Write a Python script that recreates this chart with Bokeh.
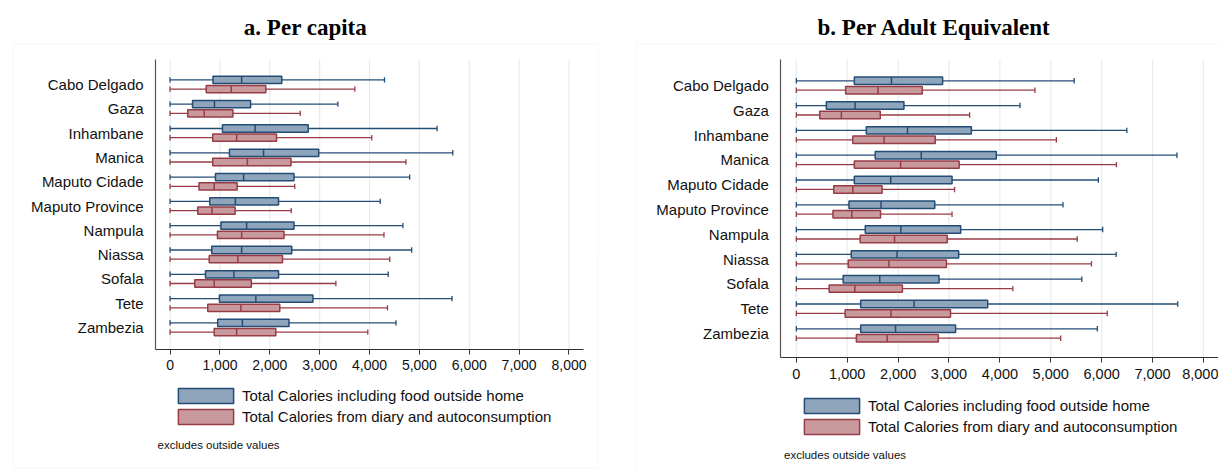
from bokeh.plotting import figure
from bokeh.models import (Range1d, FixedTicker, NumeralTickFormatter, Legend,
                          LegendItem, Label, BoxAnnotation, LinearAxis)
from bokeh.layouts import row
from bokeh.embed import file_html
from bokeh.resources import INLINE

# Provinces, listed top to bottom
regions = ["Cabo Delgado", "Gaza", "Inhambane", "Manica", "Maputo Cidade",
           "Maputo Province", "Nampula", "Niassa", "Sofala", "Tete", "Zambezia"]

x_ticks = [0, 1000, 2000, 3000, 4000, 5000, 6000, 7000, 8000]

# Box-plot statistics (kcal/day). Lower adjacent values are all zero.
# a. Per capita - total calories including food outside home
pc_tot_lo = [0, 0, 0, 0, 0, 0, 0, 0, 0, 0, 0]
pc_tot_q1 = [860, 450, 1050, 1190, 910, 795, 1020, 835, 710, 990, 955]
pc_tot_med = [1435, 890, 1705, 1875, 1475, 1310, 1535, 1435, 1280, 1720, 1450]
pc_tot_q3 = [2240, 1615, 2770, 2980, 2485, 2175, 2485, 2440, 2175, 2865, 2385]
pc_tot_hi = [4300, 3365, 5355, 5670, 4805, 4215, 4670, 4845, 4375, 5655, 4530]

# a. Per capita - total calories from diary and autoconsumption
pc_dia_lo = [0, 0, 0, 0, 0, 0, 0, 0, 0, 0, 0]
pc_dia_q1 = [725, 355, 855, 855, 580, 555, 950, 785, 495, 755, 885]
pc_dia_med = [1225, 685, 1335, 1550, 885, 840, 1435, 1360, 885, 1420, 1335]
pc_dia_q3 = [1920, 1260, 2135, 2425, 1345, 1305, 2285, 2255, 1630, 2200, 2120]
pc_dia_hi = [3705, 2610, 4045, 4730, 2500, 2430, 4290, 4405, 3325, 4360, 3965]

# b. Per adult equivalent - total calories including food outside home
ae_tot_lo = [0, 0, 0, 0, 0, 0, 0, 0, 0, 0, 0]
ae_tot_q1 = [1140, 590, 1375, 1550, 1140, 1035, 1355, 1080, 920, 1265, 1265]
ae_tot_med = [1870, 1155, 2185, 2455, 1855, 1665, 2055, 1980, 1640, 2315, 1950]
ae_tot_q3 = [2875, 2115, 3440, 3930, 3060, 2720, 3230, 3190, 2805, 3760, 3130]
ae_tot_hi = [5460, 4395, 6495, 7480, 5935, 5240, 6020, 6285, 5610, 7495, 5915]

# b. Per adult equivalent - total calories from diary and autoconsumption
ae_dia_lo = [0, 0, 0, 0, 0, 0, 0, 0, 0, 0, 0]
ae_dia_q1 = [970, 460, 1110, 1140, 735, 720, 1255, 1020, 645, 960, 1180]
ae_dia_med = [1605, 885, 1725, 2050, 1110, 1090, 1930, 1820, 1150, 1860, 1785]
ae_dia_q3 = [2475, 1650, 2730, 3200, 1685, 1655, 2965, 2950, 2085, 3030, 2790]
ae_dia_hi = [4690, 3405, 5110, 6290, 3110, 3060, 5520, 5800, 4255, 6110, 5195]

label_total = "Total Calories including food outside home"
label_diary = "Total Calories from diary and autoconsumption"

BLUE_LINE, BLUE_FILL = "#244d76", "#8fa5bc"
RED_LINE, RED_FILL = "#973c45", "#c8999d"
GRID = "#e3edf1"
SANS = "Liberation Sans"
SERIF = "Liberation Serif"

BOX_H = 0.30     # box thickness in category units
OFFSET = 0.19    # vertical shift of each series from the category centre
CAP = 0.11       # half-height of whisker end caps


def add_boxes(p, lo, q1, med, q3, hi, shift, line, fill):
    n = len(regions)
    ys = [n - 1 - i + shift for i in range(n)]
    lw = 1.3
    p.segment(x0=lo, y0=ys, x1=q1, y1=ys, line_color=line, line_width=lw)
    p.segment(x0=q3, y0=ys, x1=hi, y1=ys, line_color=line, line_width=lw)
    p.segment(x0=lo, y0=[y - CAP for y in ys], x1=lo, y1=[y + CAP for y in ys],
              line_color=line, line_width=lw)
    p.segment(x0=hi, y0=[y - CAP for y in ys], x1=hi, y1=[y + CAP for y in ys],
              line_color=line, line_width=lw)
    box = p.hbar(y=ys, left=q1, right=q3, height=BOX_H, fill_color=fill,
                 line_color=line, line_width=1.5)
    p.segment(x0=med, y0=[y - BOX_H / 2 for y in ys], x1=med,
              y1=[y + BOX_H / 2 for y in ys], line_color=line, line_width=1.5)
    return box


def make_panel(title, title_x, width, canvas_x, canvas_y, plot_x, plot_y,
               tot, dia, legend_xy, note_xy, panel_box, tick_size):
    """canvas_x/canvas_y: data ranges spanning the whole canvas;
    plot_x/plot_y: extent of the plotting area (where the axes sit)."""
    p = figure(width=width, height=470, title=None, toolbar_location=None,
               output_backend="svg",
               x_range=Range1d(*canvas_x), y_range=Range1d(*canvas_y),
               x_axis_type=None, y_axis_type=None,
               min_border=0, min_border_left=0, min_border_right=0,
               min_border_top=0, min_border_bottom=0)
    p.outline_line_color = None
    p.background_fill_color = "white"
    p.border_fill_color = "white"
    p.xgrid.visible = False
    p.ygrid.visible = False

    # light panel frame
    fl, fr, ft, fb = panel_box
    p.add_layout(BoxAnnotation(left=fl, right=fr, top=ft, bottom=fb,
                               left_units="canvas", right_units="canvas",
                               top_units="canvas", bottom_units="canvas",
                               fill_alpha=0, line_color="#e2eaee", line_width=1.5))

    # vertical grid lines over the plotting area
    p.segment(x0=x_ticks, y0=plot_y[0], x1=x_ticks, y1=plot_y[1],
              line_color=GRID, line_width=1.2)

    # x axis
    xa = LinearAxis(fixed_location=plot_y[0], bounds=plot_x)
    xa.ticker = FixedTicker(ticks=x_ticks)
    xa.formatter = NumeralTickFormatter(format="0,0")
    xa.axis_line_color = "#333333"
    xa.axis_line_width = 1.2
    xa.major_tick_line_color = "#333333"
    xa.major_tick_out = 5
    xa.major_tick_in = 0
    xa.minor_tick_line_color = None
    xa.major_label_standoff = 6
    xa.major_label_text_font = SANS
    xa.major_label_text_font_size = tick_size
    xa.major_label_text_color = "#111111"
    p.add_layout(xa, "below")

    # y axis with province names
    n = len(regions)
    ya = LinearAxis(fixed_location=plot_x[0], bounds=plot_y)
    ya.ticker = FixedTicker(ticks=list(range(n)))
    ya.major_label_overrides = {n - 1 - i: name for i, name in enumerate(regions)}
    ya.axis_line_color = "#555555"
    ya.axis_line_width = 1.2
    ya.major_tick_line_color = None
    ya.minor_tick_line_color = None
    ya.major_label_standoff = 6
    ya.major_label_text_font = SANS
    ya.major_label_text_font_size = "15px"
    ya.major_label_text_color = "#111111"
    p.add_layout(ya, "left")

    r_tot = add_boxes(p, *tot, OFFSET, BLUE_LINE, BLUE_FILL)
    r_dia = add_boxes(p, *dia, -OFFSET, RED_LINE, RED_FILL)

    legend = Legend(items=[LegendItem(label=label_total, renderers=[r_tot]),
                           LegendItem(label=label_diary, renderers=[r_dia])],
                    location=legend_xy, orientation="vertical",
                    glyph_width=69, glyph_height=19, label_height=19,
                    spacing=2, padding=0, margin=0, label_standoff=2,
                    border_line_color=None, background_fill_alpha=0,
                    label_text_font=SANS, label_text_font_size="15px",
                    label_text_color="#111111")
    p.add_layout(legend)

    p.add_layout(Label(x=title_x, y=27, x_units="canvas", y_units="canvas",
                       text=title, text_align="center", text_baseline="middle",
                       text_font=SERIF, text_font_style="bold",
                       text_font_size="23px", text_color="#000000"))
    p.add_layout(Label(x=note_xy[0], y=note_xy[1], x_units="canvas",
                       y_units="canvas", text="excludes outside values",
                       text_align="left", text_baseline="middle",
                       text_font=SANS, text_font_size="11.5px",
                       text_color="#111111"))
    return p


left = make_panel("a. Per capita", 305, 615,
                  (-3401, 8933), (-5.885, 13.457),
                  (-290, 8290), (-0.905, 11.03),
                  (pc_tot_lo, pc_tot_q1, pc_tot_med, pc_tot_q3, pc_tot_hi),
                  (pc_dia_lo, pc_dia_q1, pc_dia_med, pc_dia_q3, pc_dia_hi),
                  (171, 44), (157, 444), (12.5, 597.5, 43.5, 467.5), "14px")

right = make_panel("b. Per Adult Equivalent", 319, 603,
                   (-3553, 8296), (-5.524, 13.427),
                   (-303, 8296), (-0.968, 11.05),
                   (ae_tot_lo, ae_tot_q1, ae_tot_med, ae_tot_q3, ae_tot_hi),
                   (ae_dia_lo, ae_dia_q1, ae_dia_med, ae_dia_q3, ae_dia_hi),
                   (182, 34), (168.5, 454), (21, 640, 43.5, 495), "14.5px")

layout = row(left, right, spacing=0)
open("out.html", "w").write(file_html(layout, INLINE))
